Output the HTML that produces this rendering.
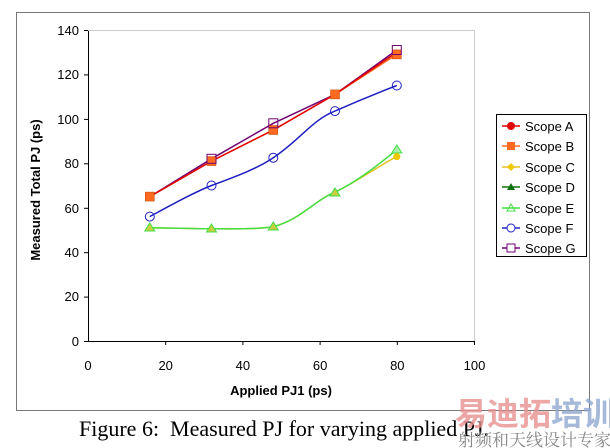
<!DOCTYPE html>
<html><head><style>body{margin:0;background:#fff}svg{display:block}</style></head><body>
<svg width="610" height="448" xmlns="http://www.w3.org/2000/svg" font-family="Liberation Sans, Arial, sans-serif">
<rect x="0" y="0" width="610" height="448" fill="#fff"/>
<rect x="16.5" y="12.5" width="573" height="398" fill="none" stroke="#777" stroke-width="1"/>
<line x1="88.5" y1="30" x2="88.5" y2="341" stroke="#000"/>
<line x1="88" y1="341.5" x2="474" y2="341.5" stroke="#000"/>
<line x1="474.5" y1="30" x2="474.5" y2="341" stroke="#ccc"/>
<line x1="88" y1="30.5" x2="474" y2="30.5" stroke="#ccc"/>
<g stroke="#000">
<line x1="84" y1="30.5" x2="88" y2="30.5"/><line x1="84" y1="74.9" x2="88" y2="74.9"/><line x1="84" y1="119.4" x2="88" y2="119.4"/><line x1="84" y1="163.8" x2="88" y2="163.8"/><line x1="84" y1="208.3" x2="88" y2="208.3"/><line x1="84" y1="252.7" x2="88" y2="252.7"/><line x1="84" y1="297.1" x2="88" y2="297.1"/><line x1="84" y1="341.5" x2="88" y2="341.5"/>
<line x1="165.7" y1="341" x2="165.7" y2="345"/><line x1="242.9" y1="341" x2="242.9" y2="345"/><line x1="320.1" y1="341" x2="320.1" y2="345"/><line x1="397.3" y1="341" x2="397.3" y2="345"/><line x1="474.5" y1="341" x2="474.5" y2="345"/>
</g>
<g font-size="13" text-anchor="end" fill="#000">
<text x="79" y="35">140</text><text x="79" y="79">120</text><text x="79" y="124">100</text><text x="79" y="168">80</text><text x="79" y="213">60</text><text x="79" y="257">40</text><text x="79" y="301">20</text><text x="79" y="346">0</text>
</g>
<g font-size="13" text-anchor="middle" fill="#000">
<text x="88" y="370">0</text><text x="165.7" y="370">20</text><text x="242.9" y="370">40</text><text x="320.1" y="370">60</text><text x="397.3" y="370">80</text><text x="474.5" y="370">100</text>
</g>
<text x="281" y="395" font-size="13" font-weight="bold" text-anchor="middle">Applied PJ1 (ps)</text>
<text transform="translate(40,190) rotate(-90)" font-size="13" font-weight="bold" text-anchor="middle">Measured Total PJ (ps)</text>
<g fill="none" stroke-width="1.5">
<path d="M149.8,227.7 C180,228.3 200,228.8 211.5,228.8 C240,229 260,229 273.3,226.6 C300,220 315,200 335,192.2 C360,180 380,165 396.8,156.6" stroke="#e8c020"/>
<path d="M149.8,227.7 C180,228.3 200,228.8 211.5,228.8 C240,229 260,229 273.3,226.6 C300,220 315,200 335,192.2 C360,180 380,163 396.8,150" stroke="#44dd44"/>
<path d="M149.8,216.6 C175,203 195,192 211.5,185.5 C240,175 258,168 273.3,157.7 C300,140 312,120 335,111.1 C360,100 380,92 396.8,85.5" stroke="#2020c0"/>
<polyline points="149.8,196.6 211.5,158.8 273.3,123.3 335,94.4 396.8,50" stroke="#700070"/>
<polyline points="149.8,196.6 211.5,161.1 273.3,130 335,94.4 396.8,54.4" stroke="#ff6a20"/>
<polyline points="149.8,196.6 211.5,161.1 273.3,130 335,94.4 396.8,52.2" stroke="#e00000"/>
</g>
<g fill="#ff6a20" stroke="#c04000" stroke-width="0.5">
<rect x="145.3" y="192.1" width="9" height="9"/><rect x="207" y="156.6" width="9" height="9"/><rect x="268.8" y="125.5" width="9" height="9"/><rect x="330.5" y="89.9" width="9" height="9"/><rect x="392.3" y="49.9" width="9" height="9"/>
</g>
<g fill="none" stroke="#700070">
<rect x="207" y="154.3" width="9" height="9"/><rect x="268.8" y="118.8" width="9" height="9"/><rect x="392.3" y="45.5" width="9" height="9"/>
</g>
<g fill="none" stroke="#2020c0">
<circle cx="149.8" cy="216.6" r="4.5"/><circle cx="211.5" cy="185.5" r="4.5"/><circle cx="273.3" cy="157.7" r="4.5"/><circle cx="335" cy="111.1" r="4.5"/><circle cx="396.8" cy="85.5" r="4.5"/>
</g>
<g fill="#c8d040" stroke="#44dd44">
<polygon points="149.8,223 154.8,231 144.8,231"/><polygon points="211.5,224 216.5,232 206.5,232"/><polygon points="273.3,222 278.3,230 268.3,230"/><polygon points="335,188 340,196 330,196"/><polygon points="396.8,145 401.8,153 391.8,153" fill="#aaeeaa"/>
</g>
<g fill="#f0c800">
<circle cx="396.8" cy="156.6" r="3.5"/>
</g>
<rect x="496.5" y="114.5" width="90" height="142" fill="#fff" stroke="#000"/>
<g font-size="13" fill="#000">
<text x="525" y="131">Scope A</text><text x="525" y="151">Scope B</text><text x="525" y="172">Scope C</text><text x="525" y="192">Scope D</text><text x="525" y="213">Scope E</text><text x="525" y="233">Scope F</text><text x="525" y="253">Scope G</text>
</g>
<g stroke-width="1.5">
<line x1="502" y1="126" x2="520" y2="126" stroke="#e00000"/><circle cx="511" cy="126" r="4" fill="#e00000"/>
<line x1="502" y1="146" x2="520" y2="146" stroke="#ff6a20"/><rect x="507" y="142" width="8" height="8" fill="#ff6a20"/>
<line x1="502" y1="167" x2="520" y2="167" stroke="#e8c020"/><polygon points="511,163 515,167 511,171 507,167" fill="#f0c800"/>
<line x1="502" y1="187" x2="520" y2="187" stroke="#107010"/><polygon points="511,183 515,190 507,190" fill="#107010"/>
<line x1="502" y1="208" x2="520" y2="208" stroke="#44dd44"/><polygon points="511,204 515,211 507,211" fill="none" stroke="#44dd44" stroke-width="1"/>
<line x1="502" y1="228" x2="520" y2="228" stroke="#2020c0"/><circle cx="511" cy="228" r="4" fill="#fff" stroke="#2020c0" stroke-width="1"/>
<line x1="502" y1="248" x2="520" y2="248" stroke="#700070"/><rect x="507" y="244" width="8" height="8" fill="#fff" stroke="#700070" stroke-width="1"/>
</g>
<text x="79" y="436" font-family="Liberation Serif, serif" font-size="22" fill="#000">Figure 6:&#160; Measured PJ for varying applied PJ.</text>
<text x="455" y="425" font-family="Liberation Sans, 'Noto Sans CJK SC', sans-serif" font-size="32" font-weight="bold" fill="#e89090" opacity="0.8">易迪拓<tspan fill="#90a8d0">培训</tspan></text>
<text x="458" y="446" font-family="Liberation Serif, 'Noto Serif CJK SC', serif" font-size="17" fill="#888">射频和天线设计专家</text>
</svg>
</body></html>
